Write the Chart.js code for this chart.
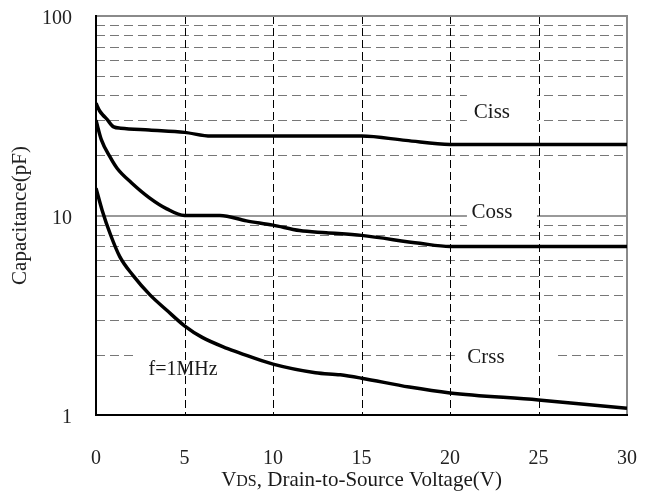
<!DOCTYPE html>
<html>
<head>
<meta charset="utf-8">
<script src="https://cdn.jsdelivr.net/npm/chart.js@4/dist/chart.umd.min.js"></script>
<style>
  body { margin: 0; background: #fff; }
  #wrap { width: 652px; height: 491px; }
</style>
</head>
<body>
<div id="wrap"><canvas id="capChart"></canvas></div>
<script>
// capacitance curves (VDS in volts, C in pF)
var cissV = [0, 0.2, 0.4, 0.6, 1.0, 1.4, 3, 5, 6.5, 15, 17.5, 20, 30];
var cissC = [36.5, 33.5, 31.8, 30.5, 27.8, 27.4, 26.8, 26.1, 25.0, 25.0, 23.8, 22.7, 22.7];

var cossV = [0, 0.3, 0.8, 1.2, 2, 3, 4, 5, 7, 8.5, 10, 11.5, 13, 15, 18.3, 20, 30];
var cossC = [30, 24, 19.6, 17.2, 14.6, 12.3, 10.8, 10.0, 10.0, 9.4, 8.95, 8.4, 8.2, 7.95, 7.25, 7.0, 7.0];

var crssV = [0, 0.35, 0.8, 1.35, 2.1, 3.05, 4, 5, 6, 7.4, 8.1, 10, 12.4, 13.8, 15, 17.7, 20, 25, 30];
var crssC = [13.7, 10.6, 8.1, 6.2, 5.0, 4.0, 3.35, 2.8, 2.45, 2.16, 2.05, 1.8, 1.63, 1.59, 1.53, 1.38, 1.29, 1.19, 1.08];

var xTicks = [0, 5, 10, 15, 20, 25, 30];
var yTicks = [1, 10, 100];
var yMinor = [2, 3, 4, 5, 6, 7, 8, 9, 20, 30, 40, 50, 60, 70, 80, 90];

var noteText = ['Ciss', 'Coss', 'Crss', 'f=1MHz'];
var noteX = [22.37, 22.37, 22.03, 4.92];
var noteY = [33.0, 10.3, 1.95, 1.68];
// white boxes behind the notes, px offsets from the text centre
var noteBoxL = [25, 25, 31, 48];
var noteBoxR = [45, 45, 71, 80];
var noteFont = [21, 21, 21, 20];

var serif = '"Liberation Serif", "Times New Roman", serif';

function toPoints(xs, ys) {
    return xs.map(function (v, i) { return { x: v, y: ys[i] }; });
}

function hLine(ctx, x0, x1, y) {
    ctx.beginPath(); ctx.moveTo(x0, y); ctx.lineTo(x1, y); ctx.stroke();
}
function vLine(ctx, x, y0, y1) {
    ctx.beginPath(); ctx.moveTo(x, y0); ctx.lineTo(x, y1); ctx.stroke();
}

var gridPlugin = {
    id: 'sheetGrid',
    beforeDatasetsDraw: function (chart) {
        var ctx = chart.ctx, a = chart.chartArea;
        var xs = chart.scales.x, ys = chart.scales.y;
        ctx.save();

        // minor horizontal dashes
        ctx.strokeStyle = '#777';
        ctx.lineWidth = 1;
        ctx.setLineDash([9, 5]);
        yMinor.forEach(function (v) {
            var py = Math.round(ys.getPixelForValue(v)) + 0.5;
            hLine(ctx, a.left, a.right, py);
        });
        ctx.setLineDash([]);
        // solid decade line
        ctx.lineWidth = 1.5;
        hLine(ctx, a.left, a.right, Math.round(ys.getPixelForValue(10)));

        // white boxes under the notes
        ctx.fillStyle = '#fff';
        noteText.forEach(function (t, i) {
            var cx = xs.getPixelForValue(noteX[i]);
            var cy = ys.getPixelForValue(noteY[i]);
            ctx.fillRect(cx - noteBoxL[i], cy - 18, noteBoxL[i] + noteBoxR[i], 36);
        });

        // vertical dashes
        ctx.strokeStyle = '#000';
        ctx.lineWidth = 1;
        ctx.setLineDash([8, 4]);
        xTicks.slice(1, -1).forEach(function (v) {
            var px = Math.round(xs.getPixelForValue(v)) + 0.5;
            vLine(ctx, px, a.top, a.bottom);
        });
        ctx.setLineDash([]);

        // frame: grey top/right, black left/bottom
        ctx.lineWidth = 2;
        ctx.strokeStyle = '#8a8a8a';
        hLine(ctx, a.left, a.right + 1, a.top);
        vLine(ctx, a.right, a.top, a.bottom);
        ctx.strokeStyle = '#000';
        vLine(ctx, a.left, a.top - 1, a.bottom + 1);
        hLine(ctx, a.left - 1, a.right + 1, a.bottom);
        ctx.restore();
    },
    afterDraw: function (chart) {
        var ctx = chart.ctx, a = chart.chartArea;
        var xs = chart.scales.x, ys = chart.scales.y;
        ctx.save();
        ctx.fillStyle = '#1a1a1a';
        ctx.textAlign = 'center';
        ctx.textBaseline = 'middle';
        noteText.forEach(function (t, i) {
            ctx.font = noteFont[i] + 'px ' + serif;
            ctx.fillText(t, xs.getPixelForValue(noteX[i]), ys.getPixelForValue(noteY[i]));
        });

        // x axis title with small-cap "DS"
        var parts = [['V', 21], ['DS', 16], [', Drain-to-Source Voltage(V)', 21]];
        var total = 0;
        parts.forEach(function (p) {
            ctx.font = p[1] + 'px ' + serif;
            p.push(ctx.measureText(p[0]).width);
            total += p[2];
        });
        var x = (a.left + a.right) / 2 - total / 2;
        ctx.textAlign = 'left';
        ctx.textBaseline = 'alphabetic';
        parts.forEach(function (p) {
            ctx.font = p[1] + 'px ' + serif;
            ctx.fillText(p[0], x, 486);
            x += p[2];
        });
        ctx.restore();
    }
};

function lineSet(xs, ys) {
    return {
        data: toPoints(xs, ys),
        borderColor: '#000',
        borderWidth: 3.5,
        pointRadius: 0,
        fill: false,
        cubicInterpolationMode: 'monotone'
    };
}

var capChart = new Chart(document.getElementById('capChart'), {
    type: 'line',
    data: {
        datasets: [lineSet(cissV, cissC), lineSet(cossV, cossC), lineSet(crssV, crssC)]
    },
    options: {
        responsive: true,
        maintainAspectRatio: false,
        animation: false,
        layout: { padding: { left: 0, right: 25, top: 16, bottom: 0 } },
        plugins: { legend: { display: false }, tooltip: { enabled: false } },
        scales: {
            x: {
                type: 'linear',
                min: 0,
                max: 30,
                grid: { display: false },
                border: { display: false },
                afterBuildTicks: function (s) { s.ticks = xTicks.map(function (v) { return { value: v }; }); },
                afterFit: function (s) { s.height = 76; s.paddingLeft = 0; s.paddingRight = 0; },
                ticks: {
                    padding: 24,
                    maxRotation: 0,
                    color: '#222',
                    font: { family: serif, size: 20 }
                }
            },
            y: {
                type: 'logarithmic',
                min: 1,
                max: 100,
                grid: { display: false },
                border: { display: false },
                afterBuildTicks: function (s) { s.ticks = yTicks.map(function (v) { return { value: v }; }); },
                afterFit: function (s) { s.width = 96; s.paddingTop = 0; s.paddingBottom = 0; },
                ticks: {
                    padding: 16,
                    labelOffset: 3,
                    autoSkip: false,
                    color: '#222',
                    font: { family: serif, size: 20 },
                    callback: function (v) { return String(v); }
                },
                title: {
                    display: true,
                    text: 'Capacitance(pF)',
                    color: '#222',
                    font: { family: serif, size: 21 },
                    padding: { top: 8, bottom: 0 }
                }
            }
        }
    },
    plugins: [gridPlugin]
});
</script>
</body>
</html>
